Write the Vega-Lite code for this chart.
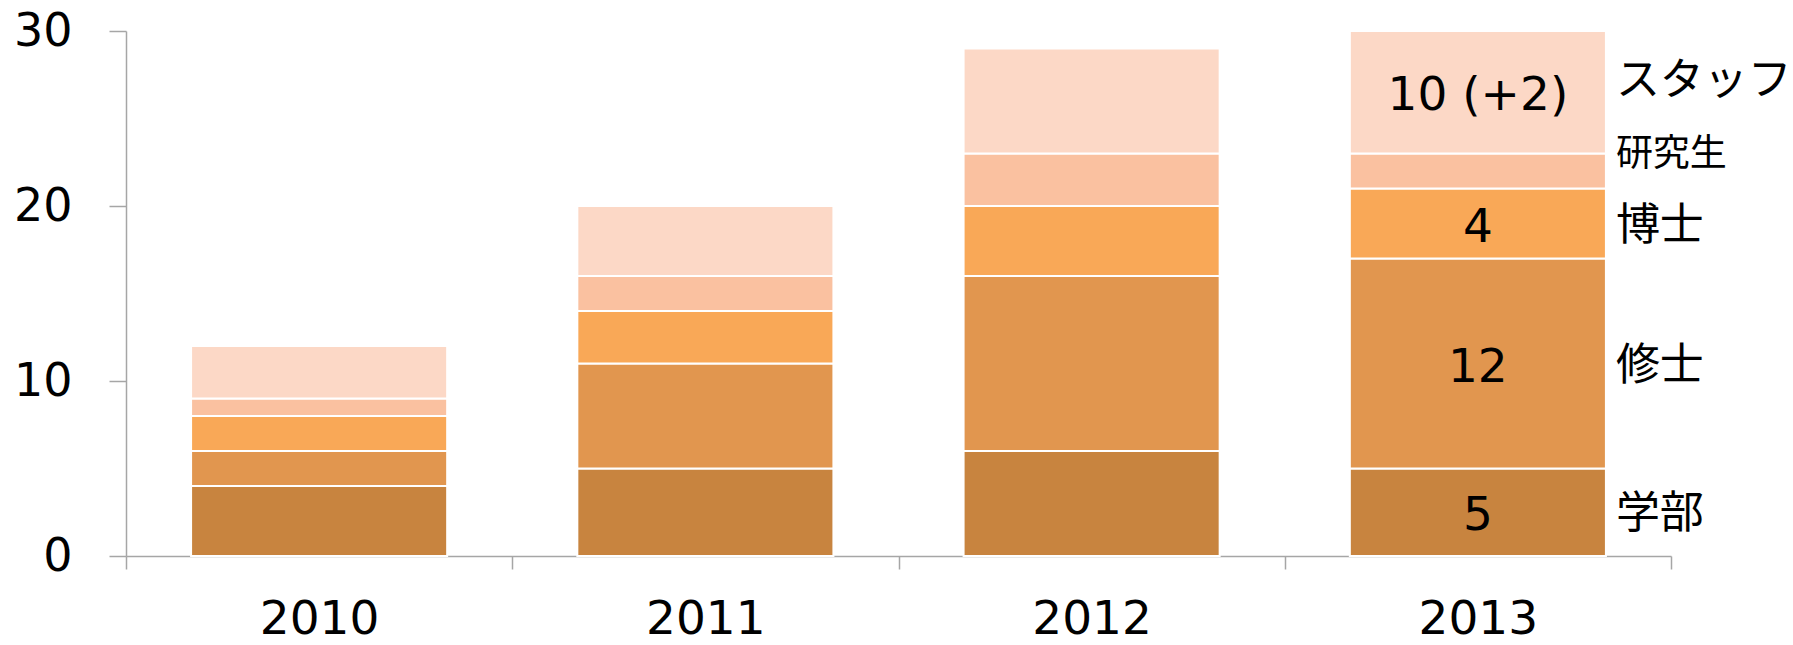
{
  "$schema": "https://vega.github.io/schema/vega-lite/v6.json",
  "width": 1545,
  "height": 525,
  "autosize": {"type": "none"},
  "padding": {"left": 126, "top": 31, "right": 122, "bottom": 89},
  "background": "white",
  "config": {"view": {"stroke": null}},
  "data": {"values": [
    {"year": "2010", "cat": "学部", "k": 1, "n": 4, "lab": ""},
    {"year": "2010", "cat": "修士", "k": 2, "n": 2, "lab": ""},
    {"year": "2010", "cat": "博士", "k": 3, "n": 2, "lab": ""},
    {"year": "2010", "cat": "研究生", "k": 4, "n": 1, "lab": ""},
    {"year": "2010", "cat": "スタッフ", "k": 5, "n": 3, "lab": ""},
    {"year": "2011", "cat": "学部", "k": 1, "n": 5, "lab": ""},
    {"year": "2011", "cat": "修士", "k": 2, "n": 6, "lab": ""},
    {"year": "2011", "cat": "博士", "k": 3, "n": 3, "lab": ""},
    {"year": "2011", "cat": "研究生", "k": 4, "n": 2, "lab": ""},
    {"year": "2011", "cat": "スタッフ", "k": 5, "n": 4, "lab": ""},
    {"year": "2012", "cat": "学部", "k": 1, "n": 6, "lab": ""},
    {"year": "2012", "cat": "修士", "k": 2, "n": 10, "lab": ""},
    {"year": "2012", "cat": "博士", "k": 3, "n": 4, "lab": ""},
    {"year": "2012", "cat": "研究生", "k": 4, "n": 3, "lab": ""},
    {"year": "2012", "cat": "スタッフ", "k": 5, "n": 6, "lab": ""},
    {"year": "2013", "cat": "学部", "k": 1, "n": 5, "lab": "5"},
    {"year": "2013", "cat": "修士", "k": 2, "n": 12, "lab": "12"},
    {"year": "2013", "cat": "博士", "k": 3, "n": 4, "lab": "4"},
    {"year": "2013", "cat": "研究生", "k": 4, "n": 2, "lab": ""},
    {"year": "2013", "cat": "スタッフ", "k": 5, "n": 7, "lab": "10 (+2)"}
  ]},
  "encoding": {
    "x": {
      "field": "year", "type": "ordinal",
      "scale": {"paddingInner": 0, "paddingOuter": 0},
      "axis": {
        "title": null, "labelAngle": 0, "tickBand": "extent",
        "domainColor": "#A6A6A6", "domainWidth": 1.5,
        "tickColor": "#A6A6A6", "tickWidth": 1.5, "tickSize": 13,
        "labelFont": "DejaVu Sans", "labelFontSize": 47, "labelColor": "#000000",
        "labelPadding": 27
      }
    }
  },
  "layer": [
    {
      "mark": {"type": "bar", "width": {"band": 0.663}, "stroke": "#ffffff", "strokeWidth": 2},
      "encoding": {
        "y": {
          "field": "n", "type": "quantitative", "aggregate": "sum", "stack": "zero",
          "scale": {"domain": [0, 30], "nice": false},
          "axis": {
            "title": null, "values": [0, 10, 20, 30], "grid": false,
            "domainColor": "#A6A6A6", "domainWidth": 1.5,
            "tickColor": "#A6A6A6", "tickWidth": 1.5, "tickSize": 17,
            "labelFont": "DejaVu Sans", "labelFontSize": 46, "labelColor": "#000000",
            "labelPadding": 37
          }
        },
        "color": {
          "field": "cat", "type": "nominal",
          "sort": ["学部", "修士", "博士", "研究生", "スタッフ"],
          "scale": {
            "domain": ["学部", "修士", "博士", "研究生", "スタッフ"],
            "range": ["#C8843F", "#E1964F", "#F9A857", "#FAC1A0", "#FCD8C6"]
          },
          "legend": null
        },
        "order": {"field": "k", "type": "quantitative"}
      }
    },
    {
      "transform": [
        {"filter": "datum.year === '2013'"},
        {"stack": "n", "groupby": ["year"], "sort": [{"field": "k"}], "as": ["y0", "y1"]},
        {"calculate": "(datum.y0 + datum.y1) / 2", "as": "mid"},
        {"filter": "datum.lab !== ''"}
      ],
      "mark": {"type": "text", "font": "DejaVu Sans", "fontSize": 47, "color": "#000000", "baseline": "middle", "dy": 4},
      "encoding": {
        "y": {"field": "mid", "type": "quantitative"},
        "text": {"field": "lab"}
      }
    },
    {
      "transform": [
        {"filter": "datum.year === '2013'"},
        {"stack": "n", "groupby": ["year"], "sort": [{"field": "k"}], "as": ["y0", "y1"]},
        {"calculate": "(datum.y0 + datum.y1) / 2", "as": "mid"},
        {"filter": "datum.k <= 3"}
      ],
      "mark": {"type": "text", "font": "Noto Sans CJK JP", "fontSize": 44, "color": "#000000", "baseline": "middle", "align": "left", "dx": 138, "dy": 3},
      "encoding": {
        "y": {"field": "mid", "type": "quantitative"},
        "text": {"field": "cat"}
      }
    },
    {
      "transform": [
        {"filter": "datum.year === '2013'"},
        {"stack": "n", "groupby": ["year"], "sort": [{"field": "k"}], "as": ["y0", "y1"]},
        {"calculate": "(datum.y0 + datum.y1) / 2", "as": "mid"},
        {"filter": "datum.k === 5"}
      ],
      "mark": {"type": "text", "font": "Noto Sans CJK JP", "fontSize": 44, "color": "#000000", "baseline": "middle", "align": "left", "dx": 138, "dy": -10},
      "encoding": {
        "y": {"field": "mid", "type": "quantitative"},
        "text": {"field": "cat"}
      }
    },
    {
      "transform": [
        {"filter": "datum.year === '2013'"},
        {"stack": "n", "groupby": ["year"], "sort": [{"field": "k"}], "as": ["y0", "y1"]},
        {"calculate": "(datum.y0 + datum.y1) / 2", "as": "mid"},
        {"filter": "datum.k === 4"}
      ],
      "mark": {"type": "text", "font": "Noto Sans CJK JP", "fontSize": 37, "color": "#000000", "baseline": "middle", "align": "left", "dx": 138, "dy": -16},
      "encoding": {
        "y": {"field": "mid", "type": "quantitative"},
        "text": {"field": "cat"}
      }
    }
  ]
}
